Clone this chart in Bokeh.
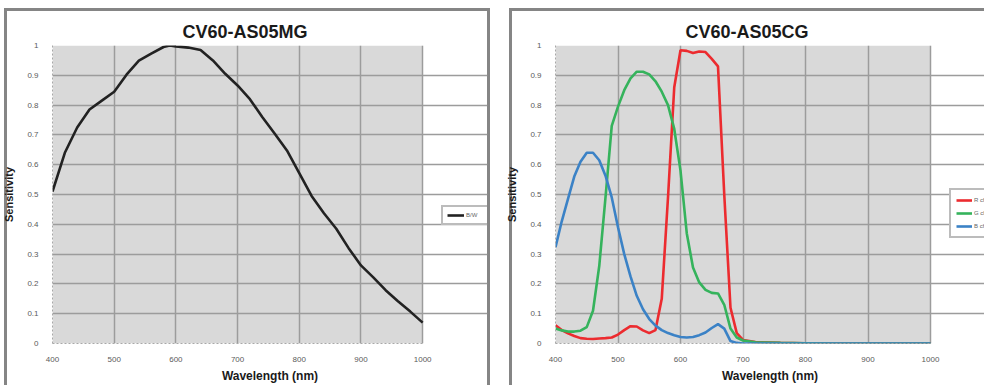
from bokeh.plotting import figure
from bokeh.layouts import row
from bokeh.models import FixedTicker, Legend, LegendItem, BoxAnnotation
from bokeh.embed import file_html
from bokeh.resources import INLINE

# ---------------- data ----------------
mono_title = "CV60-AS05MG"
color_title = "CV60-AS05CG"
x_label = "Wavelength (nm)"
y_label = "Sensitivity"

x_ticks = [400, 500, 600, 700, 800, 900, 1000]
y_ticks = [0, 0.1, 0.2, 0.3, 0.4, 0.5, 0.6, 0.7, 0.8, 0.9, 1]
y_tick_labels = ["0", "0.1", "0.2", "0.3", "0.4", "0.5", "0.6", "0.7", "0.8", "0.9", "1"]

mono_wavelength = [400, 420, 440, 460, 480, 500, 520, 540, 560, 580, 590, 600, 620, 640,
                   660, 680, 700, 720, 740, 760, 780, 800, 820, 840, 860, 880, 900, 920,
                   940, 960, 980, 1000]
mono_bw = [0.51, 0.64, 0.725, 0.785, 0.815, 0.845, 0.902, 0.949, 0.973, 0.995, 1.0, 0.997,
           0.993, 0.985, 0.95, 0.905, 0.866, 0.82, 0.76, 0.705, 0.648, 0.572, 0.495, 0.437,
           0.385, 0.32, 0.262, 0.222, 0.179, 0.142, 0.107, 0.07]
mono_label = "B/W"

color_wavelength = [400, 410, 420, 430, 440, 450, 460, 470, 480, 490, 500, 510, 520, 530,
                    540, 550, 560, 570, 580, 590, 600, 610, 620, 630, 640, 650, 660, 670,
                    680, 690, 700, 720, 760, 800, 850, 900, 950, 1000]
red_ch = [0.061, 0.045, 0.034, 0.025, 0.018, 0.016, 0.015, 0.017, 0.018, 0.02, 0.03, 0.045,
          0.058, 0.057, 0.044, 0.035, 0.045, 0.15, 0.49, 0.86, 0.984, 0.982, 0.975, 0.98,
          0.978, 0.955, 0.93, 0.5, 0.12, 0.035, 0.012, 0.005, 0.002, 0.001, 0, 0, 0, 0]
green_ch = [0.05, 0.044, 0.04, 0.04, 0.043, 0.055, 0.11, 0.26, 0.49, 0.73, 0.795, 0.85,
            0.89, 0.912, 0.912, 0.903, 0.88, 0.845, 0.8, 0.72, 0.58, 0.37, 0.255, 0.205,
            0.18, 0.17, 0.168, 0.13, 0.05, 0.02, 0.01, 0.004, 0.002, 0.001, 0, 0, 0, 0]
blue_ch = [0.323, 0.41, 0.485, 0.56, 0.61, 0.64, 0.64, 0.615, 0.563, 0.49, 0.39, 0.3,
           0.225, 0.16, 0.115, 0.082, 0.06, 0.045, 0.035, 0.028, 0.022, 0.02, 0.022, 0.028,
           0.037, 0.052, 0.065, 0.05, 0.008, 0.002, 0.0, 0, 0, 0, 0, 0, 0, 0]
color_labels = ["R ch", "G ch", "B ch"]
color_colors = ["#ec2b2f", "#35b35c", "#3b82c6"]

FONT = "Liberation Sans"
X_MIN, X_MAX = 400, 1000
H = 385


def make_fig(title, width, left, right, top, bottom, px_plot, shadow):
    # frame runs to the right edge of the figure; the grey plot area stops at 1000 nm
    frame_w = width - left - right
    x_end = X_MIN + (X_MAX - X_MIN) * frame_w / px_plot
    p = figure(width=width, height=H, x_range=(X_MIN, x_end), y_range=(0, 1),
               output_backend="svg", toolbar_location=None, title=title,
               min_border_left=left, min_border_right=right,
               min_border_top=top, min_border_bottom=bottom)
    p.styles = {"background-color": "white", "box-shadow": shadow}
    p.border_fill_color = None
    p.background_fill_color = None
    p.outline_line_color = None

    p.add_layout(BoxAnnotation(left=X_MIN, right=X_MAX, bottom=0, top=1,
                               fill_color="#d9d9d9", fill_alpha=1, line_color=None,
                               level="image"))

    p.title.align = "left"
    p.title.offset = 130
    p.title.text_font = FONT
    p.title.text_font_size = "18px"
    p.title.text_font_style = "bold"
    p.title.text_color = "#1a1a1a"
    p.title.standoff = 8

    p.xaxis.ticker = FixedTicker(ticks=x_ticks)
    p.xaxis.bounds = (X_MIN, X_MAX)
    p.yaxis.ticker = FixedTicker(ticks=y_ticks)
    p.yaxis.major_label_overrides = dict(zip(y_ticks, y_tick_labels))

    for ax in (p.xaxis, p.yaxis):
        ax.axis_line_color = "#a8a8a8"
        ax.axis_line_dash = "2 2"
        ax.axis_line_width = 1
        ax.major_tick_line_color = None
        ax.minor_tick_line_color = None
        ax.major_label_text_font = FONT
        ax.major_label_text_font_size = "8px"
        ax.major_label_text_color = "#5a5a5a"
        ax.axis_label_text_font = FONT
        ax.axis_label_text_font_style = "bold"
        ax.axis_label_text_color = "#1a1a1a"

    p.xaxis.axis_label = x_label
    p.xaxis.axis_label_text_font_size = "12px"
    p.xaxis.major_label_standoff = 7
    p.xaxis.axis_label_standoff = 4

    p.yaxis.axis_label = y_label
    p.yaxis.axis_label_text_font_size = "11px"
    p.yaxis.major_label_standoff = 8
    p.yaxis.axis_label_standoff = 9

    p.xgrid.ticker = FixedTicker(ticks=x_ticks)
    p.ygrid.ticker = FixedTicker(ticks=y_ticks)
    p.ygrid.bounds = (X_MIN, X_MAX)
    for g in (p.xgrid, p.ygrid):
        g.grid_line_color = "#9c9c9c"
        g.grid_line_width = 1.5
    return p


def style_legend(lg):
    lg.border_line_color = "#7a7a7a"
    lg.border_line_width = 2
    lg.background_fill_color = "white"
    lg.background_fill_alpha = 1
    lg.label_text_font = FONT
    lg.label_text_font_size = "6px"
    lg.label_text_color = "#666666"
    lg.glyph_width = 17
    lg.label_standoff = 2
    lg.margin = 0


# ---------------- left: monochrome ----------------
p1 = make_fig(mono_title, 490, 51, 3, 45, 34, 371,
              "inset 4px 8px 0 0 white, inset 7px 11px 0 0 #858585, inset -3px 0 0 0 #858585")
r_bw = p1.line(mono_wavelength, mono_bw, line_color="#222222", line_width=2.6)
lg1 = Legend(items=[LegendItem(label=mono_label, renderers=[r_bw])], location=(389, 118))
style_legend(lg1)
lg1.glyph_height = 8
lg1.label_height = 8
lg1.padding = 4
lg1.spacing = 0
p1.add_layout(lg1, "center")

# ---------------- right: colour ----------------
p2 = make_fig(color_title, 494, 65, 0, 43, 36, 375,
              "inset 19px 8px 0 0 white, inset 22px 11px 0 0 #858585")
items = []
for ys, lab, col in zip([red_ch, green_ch, blue_ch], color_labels, color_colors):
    r = p2.line(color_wavelength, ys, line_color=col, line_width=2.6)
    items.append(LegendItem(label=lab, renderers=[r]))
lg2 = Legend(items=items, location=(394, 105))
style_legend(lg2)
lg2.glyph_width = 16
lg2.glyph_height = 10
lg2.label_height = 10
lg2.padding = 5
lg2.spacing = 3
p2.add_layout(lg2, "center")

layout = row(p1, p2, spacing=0)

with open("out.html", "w") as f:
    f.write(file_html(layout, INLINE))
